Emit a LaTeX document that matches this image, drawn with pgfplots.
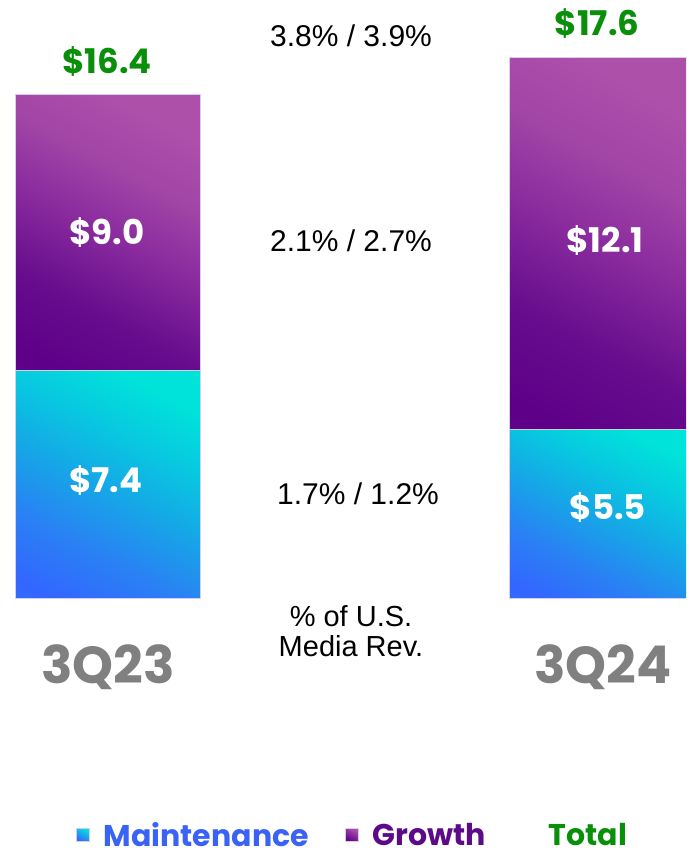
\documentclass[border=0pt]{standalone}
\usepackage{pgfplots}
\pgfplotsset{compat=1.18}
\usepackage{fontspec}
\setmainfont{Liberation Sans}
\newfontfamily\pop{Poppins}

\definecolor{mtop}{HTML}{00E3DA}
\definecolor{mbot}{HTML}{3366FF}
\definecolor{m1}{HTML}{2A80F4}
\definecolor{m2}{HTML}{14AAE6}
\definecolor{m3}{HTML}{08C8E0}
\definecolor{gtop}{HTML}{AD50AA}
\definecolor{gbot}{HTML}{5E0088}
\definecolor{g0}{HTML}{660E8D}
\definecolor{g1}{HTML}{660C8D}
\definecolor{g2}{HTML}{8A2C9E}
\definecolor{g3}{HTML}{A044A6}
\definecolor{barline}{HTML}{D8CCF2}
\definecolor{mtext}{HTML}{3A62F4}
\definecolor{gtext}{HTML}{5C0A8A}
\definecolor{totgreen}{HTML}{0A8F0A}
\definecolor{qgray}{HTML}{808080}

\pgfdeclareverticalshading{maintshade}{100bp}{color(0bp)=(m1); color(20bp)=(mbot); color(34bp)=(m1); color(50bp)=(m2); color(62bp)=(m3); color(75bp)=(mtop); color(100bp)=(mtop)}
\pgfdeclareverticalshading{growthshade}{100bp}{color(0bp)=(g0); color(20bp)=(gbot); color(34bp)=(g1); color(50bp)=(g2); color(62bp)=(g3); color(75bp)=(gtop); color(100bp)=(gtop)}

\pgfplotsset{
  barframe/.style={
    width=686pt, height=850pt, scale only axis,
    xmin=0, xmax=686, ymin=-8.21, ymax=19.48,
    hide axis, ybar stacked, bar width=185,
  },
  maint/.style={draw=barline, line width=0.8pt, shading=maintshade, shading angle=-28},
  growth/.style={draw=barline, line width=0.8pt, shading=growthshade, shading angle=-28},
}
\tikzset{
  lbl/.style={anchor=base, font=\pop\bfseries\fontsize{34}{40}\selectfont},
  pct/.style={anchor=base, font=\fontsize{30}{36}\selectfont},
}

\begin{document}
\begin{tikzpicture}
% 3Q23 bar, and the legend
\begin{axis}[
  barframe,
  legend columns=3,
  legend style={
    at={(0.1108,0.0175)}, anchor=west,
    draw=none, fill=none, inner sep=0pt, outer sep=0pt,
    font=\pop\bfseries\fontsize{30}{36}\selectfont,
    nodes={inner sep=0pt},
    /tikz/every odd column/.append style={column sep=14pt},
    /tikz/every even column/.append style={column sep=36pt},
  },
  legend cell align=left,
]
\addplot[maint, legend image code/.code={\shade[top color=mtop,bottom color=mbot,shading angle=-28] (0pt,-6.5pt) rectangle (13pt,6.5pt);}]
  coordinates {(108,7.4)};
\addlegendentry{\textcolor{mtext}{Maintenance}}
\addplot[growth, legend image code/.code={\shade[top color=gtop,bottom color=gbot,shading angle=-28] (0pt,-6.5pt) rectangle (13pt,6.5pt);}]
  coordinates {(108,9.0)};
\addlegendentry{\textcolor{gtext}{Growth}}
\addlegendimage{legend image code/.code={\path[draw=none,fill=none] (0pt,-6.5pt) rectangle (13pt,6.5pt);}}
\addlegendentry{\textcolor{totgreen}{Total}}
\end{axis}

% 3Q24 bar
\begin{axis}[barframe]
\addplot[maint] coordinates {(601.5,5.5)};
\addplot[growth] coordinates {(601.5,12.1)};
\end{axis}

% texts, on top of both bars
\begin{axis}[barframe]
% totals
\node[lbl, text=totgreen] at (axis cs:107,17.07) {\$16.4};
\node[lbl, text=totgreen] at (axis cs:597,18.31) {\$17.6};
% segment values
\node[lbl, text=white] at (axis cs:107,11.50) {\$9.0};
\node[lbl, text=white] at (axis cs:106,3.42) {\$7.4};
\node[lbl, text=white] at (axis cs:605,11.24) {\$12.1};
\node[lbl, text=white] at (axis cs:608,2.54) {\$5.5};
% share of U.S. media revenue
\node[pct] at (axis cs:351,17.98) {3.8\% / 3.9\%};
\node[pct] at (axis cs:351,11.30) {2.1\% / 2.7\%};
\node[pct] at (axis cs:358,3.03) {1.7\% / 1.2\%};
\node[anchor=base, align=center, font=\fontsize{29}{30}\selectfont] at (axis cs:351,-1.92) {\% of U.S.\\Media Rev.};
% categories
\node[anchor=base, text=qgray, font=\pop\bfseries\fontsize{52}{60}\selectfont] at (axis cs:108,-2.80) {3Q23};
\node[anchor=base, text=qgray, font=\pop\bfseries\fontsize{52}{60}\selectfont] at (axis cs:603,-2.80) {3Q24};
\end{axis}
\pgfresetboundingbox
\path[use as bounding box] (current axis.south west) rectangle (current axis.north east);
\end{tikzpicture}
\end{document}
